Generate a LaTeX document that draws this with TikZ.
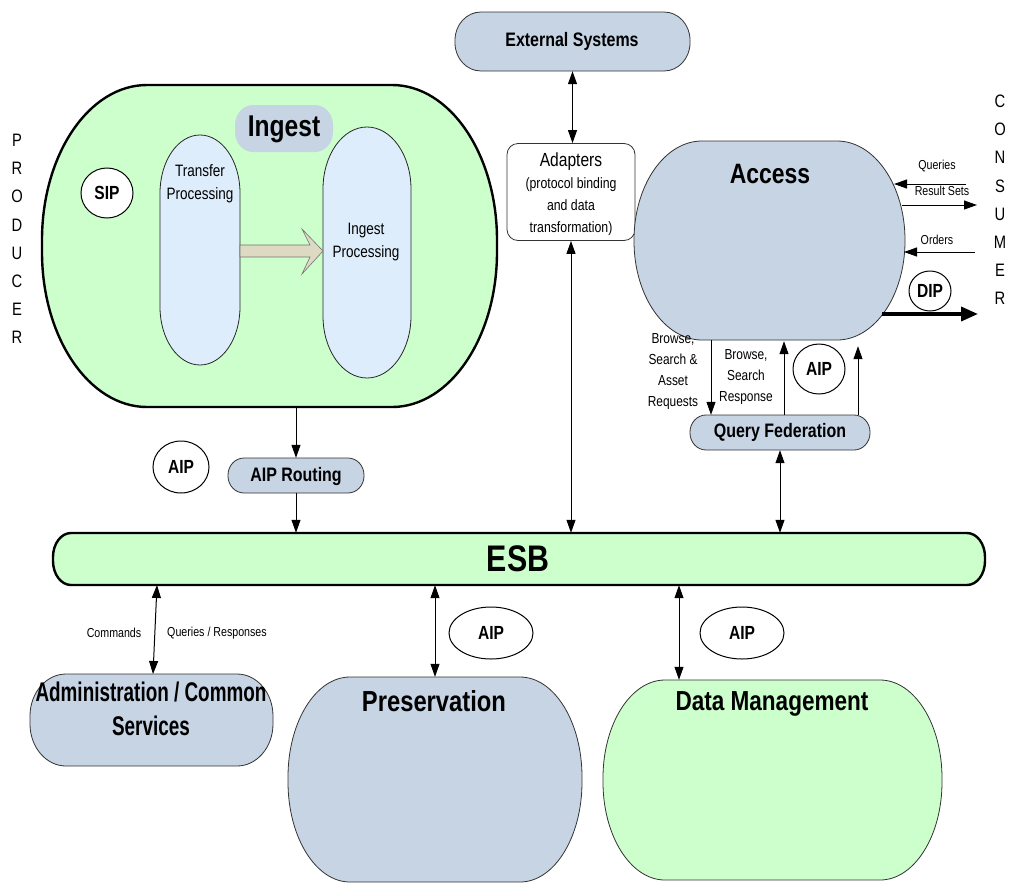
\documentclass[tikz,border=0pt]{standalone}
\usepackage{fontspec}
\setmainfont{Liberation Sans}[FakeStretch=0.82]
\newfontfamily\narrowfont{Liberation Sans}[FakeStretch=0.7]
\usetikzlibrary{arrows.meta,shapes.geometric,fit}
\definecolor{bgray}{RGB}{198,212,228}
\definecolor{lgreen}{RGB}{204,255,204}
\definecolor{lblue}{RGB}{221,237,251}
\definecolor{beige}{RGB}{221,217,195}
\newcommand\fsz[2]{\fontsize{#1}{#2}\selectfont}
% #1 name, #2 style, #3 x1, #4 y1, #5 x2, #6 y2, #7 rx, #8 ry
\newcommand\eshape[8]{%
  \path[#2] (#3+#7,#4) -- (#5-#7,#4)
    .. controls (#5-0.448*#7,#4) and (#5,#4+0.448*#8) .. (#5,#4+#8)
    -- (#5,#6-#8)
    .. controls (#5,#6-0.448*#8) and (#5-0.448*#7,#6) .. (#5-#7,#6)
    -- (#3+#7,#6)
    .. controls (#3+0.448*#7,#6) and (#3,#6-0.448*#8) .. (#3,#6-#8)
    -- (#3,#4+#8)
    .. controls (#3,#4+0.448*#8) and (#3+0.448*#7,#4) .. (#3+#7,#4) -- cycle;
  \node[fit={(#3,#4) (#5,#6)}, inner sep=0pt, draw=none] (#1) {};}
\begin{document}
\begin{tikzpicture}[x=1pt,y=-1pt,
  >={Triangle[length=13pt,width=9pt]},
  conn/.style={line width=1pt},
  blueshape/.style={fill=bgray,draw=black!80,line width=0.8pt},
  greenshape/.style={fill=lgreen,draw=black!80,line width=0.8pt},
  busshape/.style={fill=lgreen,draw=black,line width=2.4pt},
  capsule/.style={fill=lblue,draw=black!85,line width=0.8pt},
  pkg/.style={ellipse,draw=black,line width=1pt,fill=white,inner sep=0pt,font=\bfseries\fsz{19}{22}},
  bigtitle/.style={font=\bfseries\fsz{28}{32},inner sep=0pt},
  midtitle/.style={font=\bfseries\fsz{19.5}{22},inner sep=0pt},
  small/.style={font=\fsz{13}{16},inner sep=0pt},
  body/.style={font=\fsz{16.5}{23},align=center,inner sep=0pt},
  side/.style={font=\fsz{18}{28.2},align=center,inner sep=0pt}]
\useasboundingbox[fill=white] (0,0) rectangle (1012,884);

% ---------------- Ingest ----------------
\eshape{ingest}{busshape}{42}{85}{497}{407}{105}{155}
\eshape{transfer}{capsule}{160}{135}{240}{365}{40}{58}
\eshape{ingproc}{capsule}{323}{127}{411}{378}{44}{62}
\draw[fill=beige,draw=black!55,line width=0.6pt]
  (240,245) -- (310,245) -- (302,229) -- (323,251) -- (302,274) -- (310,257) -- (240,257) -- cycle;
\eshape{inglabel}{fill=bgray,draw=none}{235}{105}{333}{152}{18}{20}
\node[bigtitle,font=\bfseries\fsz{30}{32}] (ingesttxt) at (284,129) {Ingest};
\node[body] (transfertxt) at (200,184) {Transfer\\Processing};
\node[body] (ingproctxt) at (366,242) {Ingest\\Processing};
\node[pkg,minimum width=52pt,minimum height=50pt] (sip) at (107,193) {SIP};

% ---------------- side labels ----------------
\node[side] (producer) at (17,239) {P\\R\\O\\D\\U\\C\\E\\R};
\node[side] (consumer) at (1000,200) {C\\O\\N\\S\\U\\M\\E\\R};

% ---------------- External / Adapters ----------------
\eshape{ext}{blueshape}{455}{12}{690}{71}{26}{28}
\node[midtitle] (exttxt) at (572,41) {External Systems};
\node[draw=black!80,line width=0.8pt,fill=white,rounded corners=11pt,
      minimum width=128pt,minimum height=97pt,inner sep=0pt] (adapters) at (571,192) {};
\node[font=\fsz{15}{22},align=center,inner sep=0pt] (adaptxt) at (571,194)
  {{\fsz{19}{22}Adapters}\\(protocol binding\\and data\\transformation)};

% ---------------- Access ----------------
\eshape{access}{blueshape}{634}{141}{905}{340}{68}{99}
\node[bigtitle] (accesstxt) at (770,174) {Access};
\coordinate (qa) at (966,184);  \coordinate (qb) at (894,184);
\coordinate (ra) at (902,205);  \coordinate (rb) at (977,205);
\coordinate (oa) at (975,252);  \coordinate (ob) at (904,252);
\coordinate (da) at (882,314);  \coordinate (db) at (978,314);
\draw[conn,->] (qa) -- (qb);
\draw[conn,->] (ra) -- (rb);
\draw[conn,->] (oa) -- (ob);
\draw[line width=3.6pt,-{Triangle[length=17pt,width=14pt]}] (da) -- (db);
\node[small] (qtxt) at (937,166) {Queries};
\node[small] (rtxt) at (942,191) {Result Sets};
\node[small] (otxt) at (937,240) {Orders};
\node[pkg,minimum width=42pt,minimum height=40pt] (dip) at (930,291) {DIP};

% ---------------- Query Federation ----------------
\eshape{qf}{blueshape}{690}{415}{870}{450}{16}{17}
\node[midtitle] (qftxt) at (780,432) {Query Federation};
\coordinate (x1) at (711,0); \coordinate (x2) at (784,0); \coordinate (x3) at (858,0);
\draw[conn,->] (access.south -| x1) -- (qf.north -| x1);
\draw[conn,->] (qf.north -| x2) -- ([yshift=-1pt]access.south -| x2);
\draw[conn,->] (qf.north -| x3) -- ([yshift=-6pt]access.south -| x3);
\node[font=\fsz{14.5}{21},align=center,inner sep=0pt] (bsar) at (673,372) {Browse,\\Search \&\\Asset\\Requests};
\node[font=\fsz{14.5}{21},align=center,inner sep=0pt] (bsr) at (746,377) {Browse,\\Search\\Response};
\node[pkg,minimum width=52pt,minimum height=50pt] (aipq) at (819,369) {AIP};

% ---------------- ESB ----------------
\eshape{esb}{busshape}{53}{533}{985}{585}{18}{24}
\node[font=\bfseries\fsz{37}{40},inner sep=0pt] (esbtxt) at (518,559) {ESB};

% ---------------- AIP Routing ----------------
\eshape{routing}{blueshape}{228}{458}{364}{493}{16}{17}
\node[midtitle] (routingtxt) at (296,476) {AIP Routing};
\node[pkg,minimum width=56pt,minimum height=52pt] (aipr) at (181,467) {AIP};
\draw[conn,->] (routing.north |- ingest.south) -- (routing.north);
\draw[conn,->] (routing.south) -- (routing.south |- esb.north);

% adapters connectors
\draw[conn,<->] (adapters.north -| ext.south) -- (ext.south);
\draw[conn,<->] (adapters.south) -- (adapters.south |- esb.north);
\draw[conn,<->] (qf.south) -- (qf.south |- esb.north);

% ---------------- bottom row ----------------
\eshape{admin}{blueshape}{30}{674}{273}{766}{36}{42}
\node[font=\narrowfont\bfseries\fsz{27}{34},align=center,inner sep=0pt] (admintxt) at (151,709)
  {Administration / Common\\Services};
\coordinate (ea) at (157,585); \coordinate (eb) at (153,674);
\draw[conn,<->] (ea) -- (eb);
\node[small] (cmdtxt) at (114,633) {Commands};
\node[small] (qrtxt) at (217,633) {Queries / Responses};

\eshape{pres}{blueshape}{288}{677}{582}{882}{62}{100}
\node[bigtitle,font=\bfseries\fsz{29}{32}] (prestxt) at (434,701) {Preservation};
\draw[conn,<->] (pres.north |- esb.south) -- (pres.north);
\node[pkg,minimum width=84pt,minimum height=52pt] (aipp) at (491,633) {AIP};

\eshape{dm}{greenshape}{603}{680}{942}{880}{62}{98}
\node[bigtitle,font=\bfseries\fsz{27.5}{32}] (dmtxt) at (772,704) {Data Management};
\coordinate (xdm) at (679,0);
\draw[conn,<->] (esb.south -| xdm) -- (dm.north -| xdm);
\node[pkg,minimum width=84pt,minimum height=52pt] (aipd) at (742,633) {AIP};
\end{tikzpicture}
\end{document}
